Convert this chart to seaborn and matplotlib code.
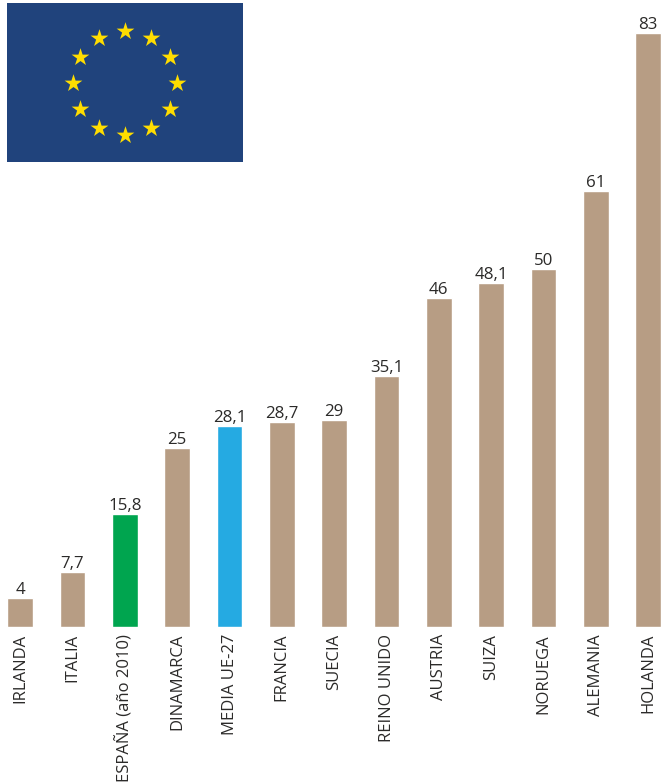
import matplotlib
matplotlib.use("Agg")
import matplotlib.pyplot as plt
import seaborn as sns
import pandas as pd
import numpy as np

paises = ["IRLANDA", "ITALIA", "ESPAÑA (año 2010)", "DINAMARCA", "MEDIA UE-27", "FRANCIA", "SUECIA",
          "REINO UNIDO", "AUSTRIA", "SUIZA", "NORUEGA", "ALEMANIA", "HOLANDA"]
valores = [4, 7.7, 15.8, 25, 28.1, 28.7, 29, 35.1, 46, 48.1, 50, 61, 83]
etiquetas = ["4", "7,7", "15,8", "25", "28,1", "28,7", "29", "35,1", "46", "48,1", "50", "61", "83"]
colores = ["#b79d84", "#b79d84", "#00a54f", "#b79d84", "#25aae2", "#b79d84", "#b79d84",
           "#b79d84", "#b79d84", "#b79d84", "#b79d84", "#b79d84", "#b79d84"]

sns.set_style("white")
plt.rcParams["font.family"] = ["Open Sans", "DejaVu Sans"]

W, H = 662, 782
base_y = 627
px_por_unidad = 7.155
paso = 52.33
x0 = 20.2

df = pd.DataFrame({"pais": paises, "valor": valores})

fig = plt.figure(figsize=(W / 100, H / 100), dpi=100)
ax = fig.add_axes([0, (H - base_y) / H, 1, base_y / H])
sns.barplot(data=df, x="pais", y="valor", hue="pais", palette=colores, legend=False,
            width=25.6 / paso, saturation=1, ax=ax)
ax.set_xlim(-x0 / paso, (W - x0) / paso)
ax.set_ylim(0, base_y / px_por_unidad)
ax.patch.set_alpha(0)
sns.despine(ax=ax, left=True, bottom=True)
ax.set_xlabel("")
ax.set_ylabel("")
ax.set_yticks([])
ax.tick_params(axis="x", length=0, pad=5, labelsize=12, labelcolor="#2b2a29")
plt.setp(ax.get_xticklabels(), rotation=90, ha="center", va="top")

for cont, txt in zip(ax.containers, etiquetas):
    ax.bar_label(cont, labels=[txt], padding=0, fontsize=12.2, color="#2b2a29")

# bandera UE
flag = fig.add_axes([7 / W, (H - 162) / H, 236 / W, 159 / H])
flag.set_facecolor("#20437c")
flag.set_xlim(7, 243)
flag.set_ylim(162, 3)
flag.set_xticks([])
flag.set_yticks([])
for s in flag.spines.values():
    s.set_visible(False)
ang = np.deg2rad(np.arange(0, 360, 30))
flag.scatter(125 + 52 * np.cos(ang), 82.6 + 52 * np.sin(ang), marker="*", s=180,
             color="#ffdd00", linewidths=0)

fig.savefig("out.png", dpi=100)
